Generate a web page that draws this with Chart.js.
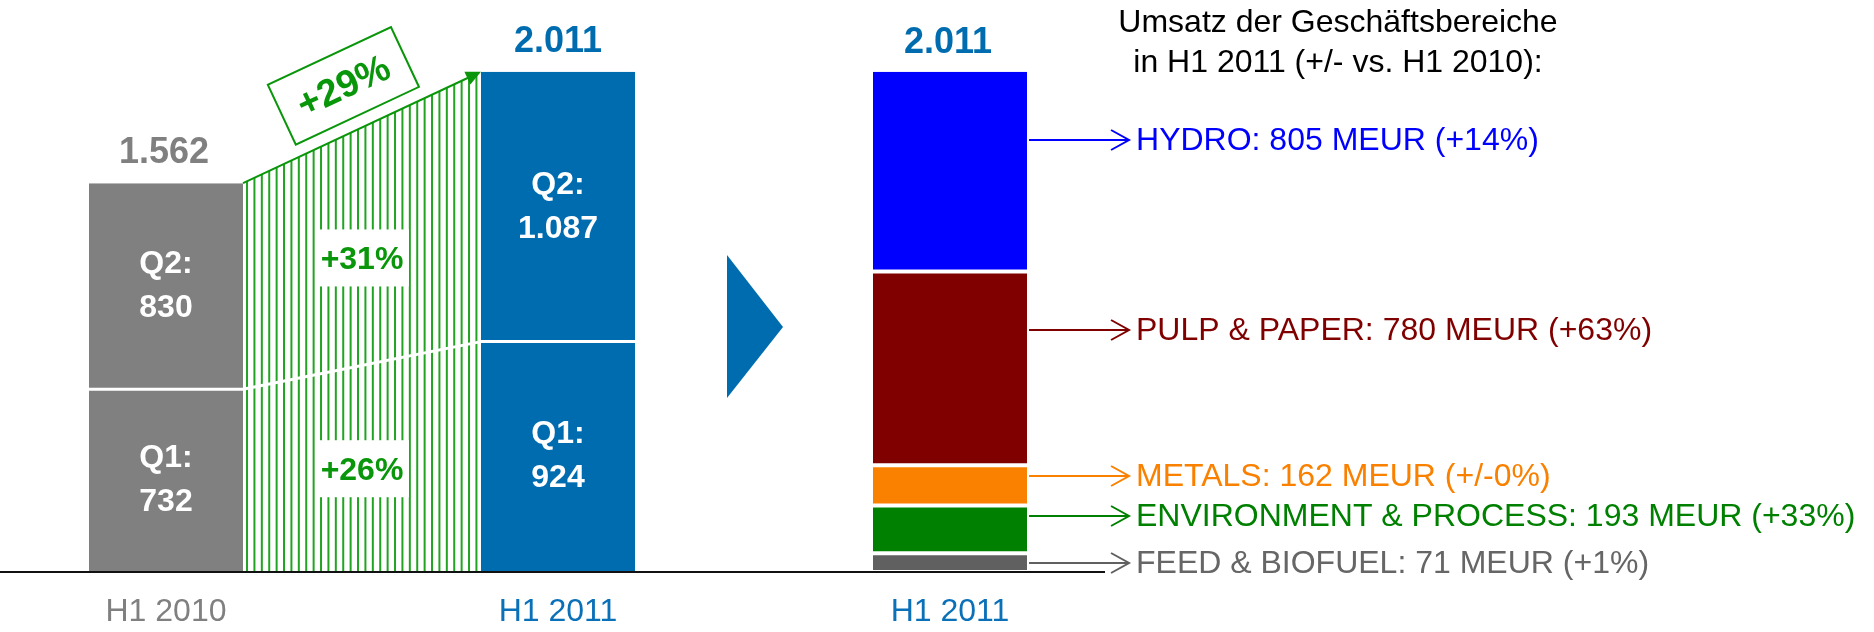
<!DOCTYPE html>
<html><head><meta charset="utf-8">
<script src="https://cdn.jsdelivr.net/npm/chart.js@4.4.1/dist/chart.umd.min.js"></script>
<style>html,body{margin:0;padding:0;background:#fff;}canvas{display:block;}</style>
</head><body>
<canvas id="c" width="1874" height="632"></canvas>
<script>
// ---- data ----
const categories = ['H1 2010', '', 'H1 2011', '', 'H1 2011'];
const q1Values = [732, null, 924, null, null];
const q2Values = [830, null, 1087, null, null];
const segmentNames = ['FEED & BIOFUEL', 'ENVIRONMENT & PROCESS', 'METALS', 'PULP & PAPER', 'HYDRO'];
const segmentValues = [71, 193, 162, 780, 805];
const segmentChanges = ['+1%', '+33%', '+/-0%', '+63%', '+14%'];
const titleLines = ['Umsatz der Geschäftsbereiche', 'in H1 2011 (+/- vs. H1 2010):'];
const unitLabel = 'MEUR';

// ---- styles ----
const FONT = "'Liberation Sans', Arial, Helvetica, sans-serif";
const GRAY = '#808080', BLUE = '#006cb0', GREEN = '#0a960a', HATCH = '#22a322';
const segColors = ['#606060', '#008000', '#fa8000', '#800000', '#0000ff'];
const segTextColors = ['#666666', '#008000', '#fa8000', '#800000', '#0000ff'];
const tickColors = [GRAY, GRAY, '#0a70b8', '#0a70b8', '#0a70b8'];
const arrowFrac = [0.45, 0.78, 0.73, 0.70, 0.66];

Chart.defaults.font.family = FONT;

function fmt(n) {
  return n >= 1000 ? Math.floor(n / 1000) + '.' + String(n % 1000).padStart(3, '0') : String(n);
}
function growth(a, b) { return '+' + Math.round((b / a - 1) * 100) + '%'; }

const datasets = [
  { label: 'Q1', data: q1Values, backgroundColor: [GRAY, GRAY, BLUE, BLUE, BLUE],
    borderColor: '#ffffff', borderWidth: { top: 1.5, bottom: 0, left: 0, right: 0 }, borderSkipped: false },
  { label: 'Q2', data: q2Values, backgroundColor: [GRAY, GRAY, BLUE, BLUE, BLUE],
    borderColor: '#ffffff', borderWidth: { top: 0, bottom: 1.5, left: 0, right: 0 }, borderSkipped: false }
];
segmentValues.forEach((v, i) => {
  datasets.push({
    label: segmentNames[i],
    data: [null, null, null, null, v],
    backgroundColor: segColors[i],
    borderColor: '#ffffff',
    borderWidth: { top: i < segmentValues.length - 1 ? 2 : 0, bottom: i > 0 ? 2 : 1, left: 0, right: 0 },
    borderSkipped: false
  });
});

const decor = {
  id: 'decor',
  afterDatasetsDraw(chart) {
    const ctx = chart.ctx;
    const ys = chart.scales.y, xs = chart.scales.x;
    const m0 = chart.getDatasetMeta(0).data, m1 = chart.getDatasetMeta(1).data;
    const y0 = ys.getPixelForValue(0);

    // baseline
    ctx.save();
    ctx.strokeStyle = '#111';
    ctx.lineWidth = 2;
    ctx.beginPath(); ctx.moveTo(0, y0 + 1); ctx.lineTo(1105, y0 + 1); ctx.stroke();
    ctx.restore();

    // hatch between bars
    const g2 = m1[0], g1 = m0[0], b2 = m1[2], b1 = m0[2];
    const xa = g2.x + g2.width / 2, xb = b2.x - b2.width / 2;
    const ta = g2.y, tb = b2.y, sa = g1.y, sb = b1.y;
    const lerp = (a, b, t) => a + (b - a) * t;
    ctx.save();
    ctx.strokeStyle = HATCH; ctx.lineWidth = 2;
    for (let x = xa + 4; x < xb - 1; x += 7.4) {
      const t = (x - xa) / (xb - xa);
      ctx.beginPath(); ctx.moveTo(x, y0); ctx.lineTo(x, lerp(ta, tb, t)); ctx.stroke();
    }
    // white split line
    ctx.strokeStyle = '#fff'; ctx.lineWidth = 3;
    ctx.beginPath(); ctx.moveTo(xa, sa); ctx.lineTo(xb, sb); ctx.stroke();
    // growth boxes
    const xm = (xa + xb) / 2;
    const midTop = (ta + tb) / 2, midSplit = (sa + sb) / 2;
    const boxes = [
      { y: (midTop + midSplit) / 2 + 12, txt: growth(q2Values[0], q2Values[2]) },
      { y: (midSplit + y0) / 2 + 1, txt: growth(q1Values[0], q1Values[2]) }
    ];
    boxes.forEach(b => {
      ctx.fillStyle = '#fff';
      ctx.fillRect(xm - 47, b.y - 29, 94, 57);
      ctx.fillStyle = GREEN;
      ctx.font = 'bold 32px ' + FONT;
      ctx.textAlign = 'center'; ctx.textBaseline = 'middle';
      ctx.fillText(b.txt, xm, b.y + 2);
    });
    // diagonal arrow
    const ang = Math.atan2(tb - ta, xb - xa);
    ctx.strokeStyle = GREEN; ctx.lineWidth = 2;
    ctx.beginPath(); ctx.moveTo(xa, ta); ctx.lineTo(xb - 10 * Math.cos(ang), tb - 10 * Math.sin(ang)); ctx.stroke();
    ctx.fillStyle = GREEN;
    ctx.save();
    ctx.translate(xb, tb); ctx.rotate(ang);
    ctx.beginPath(); ctx.moveTo(0, 0); ctx.lineTo(-15, -7); ctx.lineTo(-15, 7); ctx.closePath(); ctx.fill();
    ctx.restore();
    // +29% box
    const mx = (xa + xb) / 2, my = (ta + tb) / 2;
    const nx = Math.sin(ang), ny = -Math.cos(ang);
    const cx = mx + nx * 46 + Math.cos(ang) * 1, cy = my + ny * 46;
    ctx.save();
    ctx.translate(cx, cy); ctx.rotate(ang);
    ctx.fillStyle = '#fff';
    ctx.fillRect(-68, -33, 136, 66);
    ctx.strokeStyle = GREEN; ctx.lineWidth = 2;
    ctx.strokeRect(-68, -33, 136, 66);
    ctx.fillStyle = GREEN;
    ctx.font = 'bold 38px ' + FONT;
    ctx.textAlign = 'center'; ctx.textBaseline = 'middle';
    ctx.fillText(growth(q1Values[0] + q2Values[0], q1Values[2] + q2Values[2]), 0, 2);
    ctx.restore();
    ctx.restore();

    // quarter labels inside bars and totals
    ctx.save();
    ctx.textAlign = 'center'; ctx.textBaseline = 'middle';
    [0, 2].forEach(i => {
      [[m0[i], 'Q1:', q1Values[i]], [m1[i], 'Q2:', q2Values[i]]].forEach(([el, q, v]) => {
        const c = (el.y + el.base) / 2;
        ctx.fillStyle = '#fff';
        ctx.font = 'bold 32px ' + FONT;
        ctx.fillText(q, el.x, c - 22);
        ctx.fillText(fmt(v), el.x, c + 22);
      });
      const top = m1[i];
      ctx.fillStyle = i === 0 ? GRAY : BLUE;
      ctx.font = 'bold 36px ' + FONT;
      ctx.textBaseline = 'alphabetic';
      ctx.fillText(fmt(q1Values[i] + q2Values[i]), top.x - (i === 0 ? 2 : 0), top.y - 20);
      ctx.textBaseline = 'middle';
    });
    // right stack total
    const last = chart.getDatasetMeta(datasets.length - 1).data[4];
    const total = segmentValues.reduce((a, b) => a + b, 0);
    ctx.fillStyle = BLUE;
    ctx.font = 'bold 36px ' + FONT;
    ctx.textBaseline = 'alphabetic';
    ctx.fillText(fmt(total), last.x - 2, last.y - 19);
    ctx.restore();

    // triangle separator
    const tx = xs.getPixelForValue(3);
    ctx.save();
    ctx.fillStyle = BLUE;
    ctx.beginPath();
    ctx.moveTo(tx - 27, 255); ctx.lineTo(tx + 29, 327); ctx.lineTo(tx - 27, 398); ctx.closePath();
    ctx.fill();
    ctx.restore();

    // segment arrows and labels
    ctx.save();
    let cum = 0;
    segmentValues.forEach((v, i) => {
      const el = chart.getDatasetMeta(2 + i).data[4];
      const y = Math.round(ys.getPixelForValue(cum + v * arrowFrac[i]));
      cum += v;
      const xs0 = el.x + el.width / 2 + 2, xe = xs0 + 100;
      ctx.strokeStyle = segColors[i]; ctx.lineWidth = 2;
      ctx.beginPath(); ctx.moveTo(xs0, y); ctx.lineTo(xe, y); ctx.stroke();
      ctx.beginPath(); ctx.moveTo(xe - 18, y - 10); ctx.lineTo(xe, y); ctx.lineTo(xe - 18, y + 10); ctx.stroke();
      ctx.fillStyle = segTextColors[i];
      ctx.font = '32px ' + FONT;
      ctx.textAlign = 'left'; ctx.textBaseline = 'middle';
      ctx.fillText(segmentNames[i] + ': ' + v + ' ' + unitLabel + ' (' + segmentChanges[i] + ')', xe + 7, y + 1);
    });
    // title
    ctx.fillStyle = '#000';
    ctx.font = '32px ' + FONT;
    ctx.textAlign = 'center'; ctx.textBaseline = 'middle';
    titleLines.forEach((t, k) => ctx.fillText(t, 1338, 23 + k * 40));
    ctx.restore();
  }
};

new Chart(document.getElementById('c'), {
  type: 'bar',
  data: { labels: categories, datasets },
  options: {
    responsive: false,
    devicePixelRatio: 1,
    animation: false,
    layout: { padding: { left: 68, right: 826, top: 0, bottom: 0 } },
    plugins: { legend: { display: false }, tooltip: { enabled: false } },
    datasets: { bar: { barPercentage: 0.786, categoryPercentage: 1 } },
    scales: {
      x: {
        stacked: true,
        grid: { display: false, drawTicks: false },
        border: { display: false },
        ticks: { color: (c) => tickColors[c.index], font: { size: 32 }, padding: 22, autoSkip: false, maxRotation: 0 },
        afterFit: (scale) => { scale.height = 61; }
      },
      y: { stacked: true, display: false, min: 0, max: 2300 }
    }
  },
  plugins: [decor]
});
</script>
</body></html>
